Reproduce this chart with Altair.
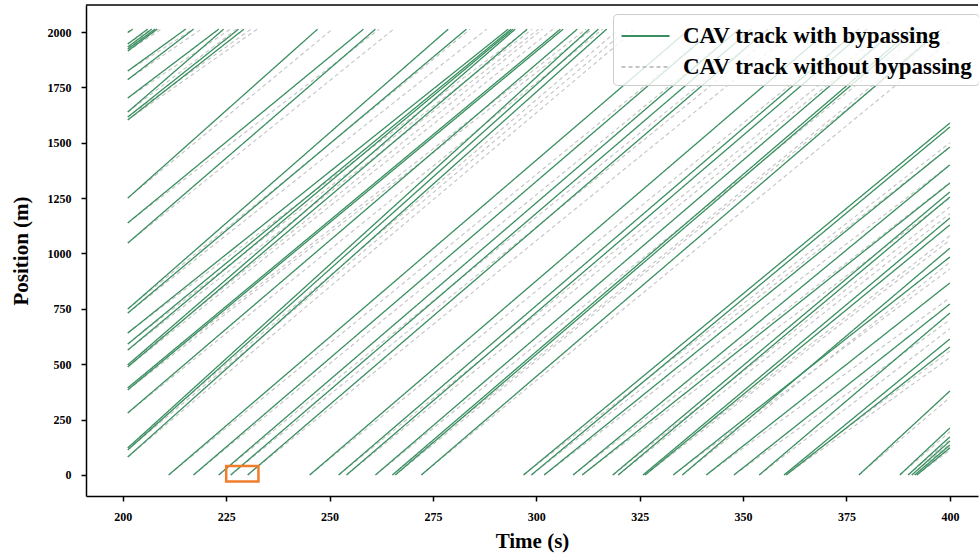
import altair as alt
import pandas as pd

A = "CAV track with bypassing"
B = "CAV track without bypassing"

# ---- CAV tracks with bypassing (green): start time, start position, end time, end position
g_t0 = [201.2, 201.2, 201.2, 201.2, 201.2, 201.2, 201.2, 201.2, 201.2, 201.2, 201.2,
        201.2, 201.2, 201.2, 201.2, 201.2, 201.2, 201.2, 201.2, 201.2, 201.2, 201.2,
        201.2, 201.2, 201.2, 201.2, 201.2,
        211.1, 217.1, 223.2, 226.1, 230.2, 245.2, 252.2, 254.1, 261.1, 265.2, 265.9, 272.2,
        296.9, 298.8, 301.9, 308.9, 311.1, 318.5, 319.8, 325.8, 326.3, 333.1, 335.3,
        341.1, 347.8, 353.9, 359.9, 360.4, 378.0, 387.9, 389.9, 390.8, 391.5, 392.0]
g_p0 = [1998, 1946, 1932, 1923, 1914, 1824, 1785, 1702, 1639, 1616, 1603,
        1250, 1138, 1047, 749, 731, 641, 591, 564, 497, 488, 393,
        384, 280, 122, 113, 81,
        0, 0, 0, 0, 0, 0, 0, 0, 0, 0, 0, 0,
        0, 0, 0, 0, 0, 0, 0, 0, 0, 0, 0,
        0, 0, 0, 0, 0, 0, 0, 0, 0, 0, 0]
g_t1 = [202.4, 206.0, 207.0, 207.8, 208.3, 215.2, 217.1, 223.2, 224.4, 228.0, 229.3,
        247.1, 258.2, 261.1, 278.7, 283.1, 293.2, 293.9, 294.4, 294.9, 297.8, 305.8,
        306.5, 309.9, 312.8, 315.0, 317.0,
        337.0, 343.0, 349.0, 352.0, 356.0, 371.0, 378.0, 380.0, 387.0, 391.0, 392.0, 398.0,
        400, 400, 400, 400, 400, 400, 400, 400, 400, 400, 400,
        400, 400, 400, 400, 400, 400, 400, 400, 400, 400, 400]
g_p1 = [2013, 2013, 2013, 2013, 2013, 2013, 2013, 2013, 2013, 2013, 2013,
        2013, 2013, 2013, 2013, 2013, 2013, 2013, 2013, 2013, 2013, 2013,
        2013, 2013, 2013, 2013, 2013,
        2013, 2013, 2013, 2013, 2013, 2013, 2013, 2013, 2013, 2013, 2013, 2013,
        1589, 1571, 1481, 1400, 1318, 1278, 1255, 1160, 1129, 984, 1024,
        867, 772, 731, 614, 578, 379, 212, 172, 153, 135, 122]

# ---- CAV tracks without bypassing (grey dashed): same starts, later / lower ends
w_t1 = [202.6, 206.8, 208.0, 208.6, 209.3, 217.0, 219.0, 226.0, 227.5, 231.0, 232.5,
        250.7, 262.0, 265.5, 284.0, 288.0, 298.0, 299.0, 300.5, 301.5, 304.0, 312.0,
        313.5, 316.0, 320.0, 322.0, 324.0,
        343.0, 349.0, 356.0, 359.0, 363.0, 378.0, 385.0, 387.0, 394.0, 398.0, 399.0, 400,
        400, 400, 400, 400, 400, 400, 400, 400, 400, 400, 400,
        400, 400, 400, 400, 400, 400, 400, 400, 400, 400, 400]
w_p1 = [2013, 2013, 2013, 2013, 2013, 2013, 2013, 2013, 2013, 2013, 2013,
        2013, 2013, 2013, 2013, 2013, 2013, 2013, 2013, 2013, 2013, 2013,
        2013, 2013, 2013, 2013, 2013,
        2013, 2013, 2013, 2013, 2013, 2013, 2013, 2013, 2013, 2013, 2013, 1960,
        1500, 1480, 1400, 1320, 1250, 1210, 1180, 1080, 1060, 930, 960,
        800, 700, 660, 560, 530, 350, 195, 160, 140, 125, 112]

# highlighted box
box_t = [225.0, 232.8]
box_p = [-30, 40]

x_ticks = [200, 225, 250, 275, 300, 325, 350, 375, 400]
y_ticks = [0, 250, 500, 750, 1000, 1250, 1500, 1750, 2000]

rows_g, rows_w = [], []
for i in range(len(g_t0)):
    rows_g.append({"id": i, "type": A, "t": g_t0[i], "p": g_p0[i], "o": 0})
    rows_g.append({"id": i, "type": A, "t": g_t1[i], "p": g_p1[i], "o": 1})
    rows_w.append({"id": i, "type": B, "t": g_t0[i], "p": g_p0[i], "o": 0})
    rows_w.append({"id": i, "type": B, "t": w_t1[i], "p": w_p1[i], "o": 1})
df_g = pd.DataFrame(rows_g)
df_w = pd.DataFrame(rows_w)
df_box = pd.DataFrame({"t0": [box_t[0]], "t1": [box_t[1]], "p0": [box_p[0]], "p1": [box_p[1]]})

FONT = "Liberation Serif"
W, H = 892, 491

xs = alt.Scale(domain=[191.1, 406.8], nice=False, zero=False)
ys = alt.Scale(domain=[-95, 2122], nice=False, zero=False)

xaxis = alt.Axis(values=x_ticks, title="Time (s)", grid=False, labelFont=FONT, labelFontWeight="bold",
                 labelFontSize=12, labelColor="black", titleFont=FONT, titleFontSize=21,
                 titleFontWeight="bold", titleColor="black", domainColor="black", domainWidth=1.5,
                 tickColor="black", tickWidth=1.5, tickSize=5, labelPadding=10, titlePadding=8)
yaxis = alt.Axis(values=y_ticks, format="d", title="Position (m)", grid=False, labelFont=FONT,
                 labelFontWeight="bold", labelFontSize=12, labelColor="black", titleFont=FONT,
                 titleFontSize=21, titleFontWeight="bold", titleColor="black", domainColor="black",
                 domainWidth=1.5, tickColor="black", tickWidth=1.5, tickSize=5, labelPadding=10,
                 titlePadding=16)

cscale = alt.Scale(domain=[A, B], range=["#3a8f60", "#c4c4c4"])
dscale = alt.Scale(domain=[A, B], range=[[1, 0], [4, 3]])

def layer(df, width):
    return alt.Chart(df).mark_line(strokeWidth=width, clip=True).encode(
        x=alt.X("t:Q", scale=xs, axis=xaxis),
        y=alt.Y("p:Q", scale=ys, axis=yaxis),
        detail="id:N",
        order="o:Q",
        color=alt.Color("type:N", scale=cscale, legend=alt.Legend(title=None)),
        strokeDash=alt.StrokeDash("type:N", scale=dscale, legend=alt.Legend(title=None)),
    )

gray = layer(df_w, 1.1)
green = layer(df_g, 1.3)

box = alt.Chart(df_box).mark_rect(fill=None, stroke="#f07d2c", strokeWidth=2.5).encode(
    x="t0:Q", x2="t1:Q", y="p0:Q", y2="p1:Q")

top = alt.Chart(df_box).mark_rule(color="black", strokeWidth=1.5).encode(
    x=alt.value(0), x2=alt.value(W), y=alt.value(0))

chart = alt.layer(gray, green, box, top).properties(
    width=W, height=H,
    autosize=alt.AutoSizeParams(type="none"),
    padding={"left": 86, "top": 5, "right": 1, "bottom": 61},
).configure_view(stroke=None).configure_legend(
    orient="none", legendX=527, legendY=9, fillColor="rgba(255,255,255,0.8)",
    strokeColor="#cccccc", cornerRadius=4, padding=6, labelFont=FONT, labelFontSize=23,
    labelFontWeight="bold", labelColor="black", symbolType="M-0.9,0H2.3", symbolSize=900,
    symbolStrokeWidth=2, rowPadding=3, labelOffset=32, labelLimit=0,
)

chart.save("out.html", embed_options={"renderer": "svg", "actions": False})
